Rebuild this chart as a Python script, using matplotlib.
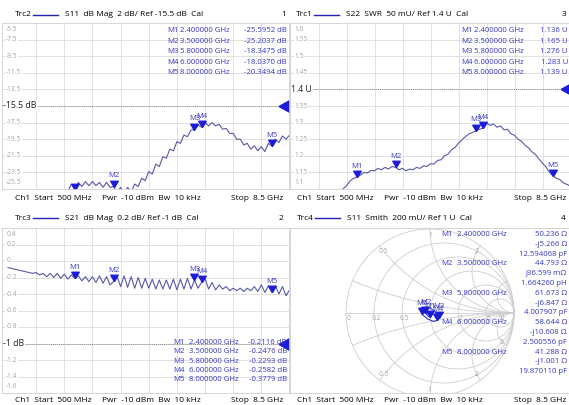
import numpy as np
import matplotlib.pyplot as plt
from matplotlib.lines import Line2D
from matplotlib.patches import Circle

plt.rcParams['font.family'] = ['Open Sans', 'DejaVu Sans']

W, H = 569, 405

# ---- values ----
s11_freq = [0.5, 1.0, 1.5, 1.9, 2.0, 2.1, 2.2, 2.3, 2.4, 2.5, 2.6, 2.7, 2.8, 2.9, 3.0,
            3.1, 3.2, 3.3, 3.4, 3.5, 3.6, 3.7, 3.8, 3.9, 4.0, 4.1, 4.2, 4.3, 4.4, 4.5,
            4.6, 4.7, 4.8, 4.9, 5.0, 5.1, 5.2, 5.3, 5.4, 5.5, 5.6, 5.7, 5.8, 5.9, 6.0,
            6.1, 6.2, 6.3, 6.4, 6.5, 6.6, 6.7, 6.8, 6.9, 7.0, 7.1, 7.2, 7.3, 7.4, 7.5,
            7.6, 7.7, 7.8, 7.9, 8.0, 8.1, 8.2, 8.3, 8.4, 8.5]
s11_db = [-31.0, -30.0, -28.5, -27.0, -26.3, -25.6, -25.8, -24.9, -25.6, -24.7, -25.2, -24.6,
          -25.1, -24.6, -25.1, -24.7, -25.3, -24.7, -25.3, -25.2, -25.9, -25.3, -26.1, -25.3,
          -25.9, -24.9, -25.2, -24.2, -24.5, -23.4, -23.7, -22.5, -22.8, -21.6, -21.8, -20.7,
          -20.9, -19.8, -20.0, -19.0, -19.2, -18.4, -18.35, -17.8, -18.04, -17.5, -17.9, -17.5,
          -17.9, -17.7, -18.3, -18.2, -18.8, -18.8, -19.5, -19.5, -20.2, -20.0, -20.7, -20.3,
          -20.9, -20.4, -21.0, -20.0, -20.35, -19.5, -19.9, -19.1, -19.5, -19.0]

swr_freq = [0.5, 1.0, 1.5, 1.9, 2.1, 2.2, 2.3, 2.4, 2.5, 2.6, 2.7, 2.8, 2.9, 3.0, 3.1,
            3.2, 3.3, 3.4, 3.5, 3.6, 3.7, 3.8, 3.9, 4.0, 4.1, 4.2, 4.3, 4.4, 4.5, 4.6,
            4.7, 4.8, 4.9, 5.0, 5.1, 5.2, 5.3, 5.4, 5.5, 5.6, 5.7, 5.8, 5.9, 6.0, 6.1,
            6.2, 6.3, 6.4, 6.5, 6.6, 6.7, 6.8, 6.9, 7.0, 7.1, 7.2, 7.3, 7.4, 7.5, 7.6,
            7.7, 7.8, 7.9, 8.0, 8.1, 8.2, 8.3, 8.4, 8.5]
swr_val = [1.00, 1.03, 1.06, 1.09, 1.11, 1.124, 1.132, 1.136, 1.142, 1.150, 1.148, 1.156,
           1.155, 1.162, 1.158, 1.165, 1.160, 1.168, 1.165, 1.158, 1.162, 1.155, 1.160, 1.158,
           1.165, 1.162, 1.170, 1.168, 1.176, 1.175, 1.186, 1.188, 1.200, 1.205, 1.218, 1.225,
           1.238, 1.248, 1.258, 1.266, 1.270, 1.276, 1.280, 1.283, 1.298, 1.292, 1.296, 1.286,
           1.290, 1.278, 1.280, 1.266, 1.262, 1.250, 1.244, 1.232, 1.224, 1.212, 1.204, 1.190,
           1.178, 1.166, 1.150, 1.139, 1.132, 1.128, 1.118, 1.114, 1.108]

s21_freq = [0.5, 0.6, 0.7, 0.8, 0.9, 1.0, 1.1, 1.2, 1.3, 1.4, 1.5, 1.6, 1.7, 1.8, 1.9,
            2.0, 2.1, 2.2, 2.3, 2.4, 2.5, 2.6, 2.7, 2.8, 2.9, 3.0, 3.1, 3.2, 3.3, 3.4,
            3.5, 3.6, 3.7, 3.8, 3.9, 4.0, 4.1, 4.2, 4.3, 4.4, 4.5, 4.6, 4.7, 4.8, 4.9,
            5.0, 5.1, 5.2, 5.3, 5.4, 5.5, 5.6, 5.7, 5.8, 5.9, 6.0, 6.1, 6.2, 6.3, 6.4,
            6.5, 6.6, 6.7, 6.8, 6.9, 7.0, 7.1, 7.2, 7.3, 7.4, 7.5, 7.6, 7.7, 7.8, 7.9,
            8.0, 8.1, 8.2, 8.3, 8.4, 8.5]
s21_db = [-0.08, -0.09, -0.10, -0.11, -0.12, -0.13, -0.14, -0.15, -0.14, -0.17, -0.15, -0.19,
          -0.15, -0.20, -0.15, -0.21, -0.16, -0.22, -0.17, -0.21, -0.18, -0.24, -0.19, -0.25,
          -0.19, -0.26, -0.18, -0.27, -0.19, -0.29, -0.25, -0.19, -0.31, -0.18, -0.32, -0.19,
          -0.33, -0.20, -0.33, -0.21, -0.33, -0.22, -0.34, -0.23, -0.34, -0.23, -0.34, -0.22,
          -0.35, -0.22, -0.34, -0.21, -0.34, -0.23, -0.33, -0.26, -0.21, -0.34, -0.26, -0.35,
          -0.29, -0.34, -0.31, -0.36, -0.33, -0.36, -0.33, -0.37, -0.33, -0.36, -0.31, -0.37,
          -0.29, -0.38, -0.30, -0.38, -0.30, -0.40, -0.31, -0.42, -0.35]

smith_re = [-0.03, 0.00, 0.005, -0.02, -0.055, -0.07, -0.05, 0.0, 0.06, 0.108, 0.088,
            0.04, -0.03, -0.08, -0.095, -0.07, -0.04]
smith_im = [0.02, -0.02, -0.052, -0.04, 0.0, 0.04, 0.07, 0.06, 0.02, -0.055, -0.089,
            -0.10, -0.07, -0.03, -0.012, 0.01, 0.0]

mk_names = ['M1', 'M2', 'M3', 'M4', 'M5']
mk_freq = [2.4, 3.5, 5.8, 6.0, 8.0]
mk_freq_txt = ['2.400000 GHz', '3.500000 GHz', '5.800000 GHz', '6.000000 GHz', '8.000000 GHz']
s11_mk = [-25.5952, -25.2037, -18.3475, -18.0370, -20.3494]
swr_mk = [1.136, 1.165, 1.276, 1.283, 1.139]
s21_mk = [-0.2116, -0.2476, -0.2293, -0.2582, -0.3779]
smith_r = [50.236, 44.793, 61.673, 58.644, 41.288]
smith_x = [-5.266, 0.036599, -6.847, -10.608, -1.001]
smith_r_txt = ['50.236 Ω', '44.793 Ω', '61.673 Ω', '58.644 Ω', '41.288 Ω']
smith_x_txt = ['-j5.266 Ω', 'j36.599 mΩ', '-j6.847 Ω', '-j10.608 Ω', '-j1.001 Ω']
smith_lc_txt = ['12.594068 pF', '1.664260 pH', '4.007907 pF', '2.500556 pF', '19.870110 pF']

s11_ticks = ['-5.5', '-7.5', '-9.5', '-11.5', '-13.5', '-15.5', '-17.5', '-19.5', '-21.5', '-23.5', '-25.5']
swr_ticks = ['1.6', '1.55', '1.5', '1.45', '1.4', '1.35', '1.3', '1.25', '1.2', '1.15', '1.1']
s21_ticks = ['0.4', '0.2', '0', '-0.2', '-0.4', '-0.6', '-0.8', '-1', '-1.2', '-1.4', '-1.6']
grid_freq = [0.5, 1.3, 2.1, 2.9, 3.7, 4.5, 5.3, 6.1, 6.9, 7.7, 8.5]

TRACE = '#5858a8'
MK = '#1c1cd8'
MKTXT = '#3838c4'
GRID = '#dcdcdc'
TICK = '#a4a4a4'
RFS = 5.6  # readout font size

fig = plt.figure(figsize=(W / 100, H / 100), dpi=100, facecolor='white')


def fx(x):
    return x / W


def fy(y):
    return 1 - y / H


def panel(x0, x1, y0, y1):
    ax = fig.add_axes([x0 / W, 1 - y1 / H, (x1 - x0) / W, (y1 - y0) / H])
    ax.tick_params(length=0, labelleft=False, labelbottom=False)
    for s in ax.spines.values():
        s.set_color('#d0d0d0')
        s.set_linewidth(0.6)
    return ax


def header(x, y, trc, desc, num, num_x):
    fig.text(fx(x), fy(y), trc, fontsize=6, va='center')
    fig.add_artist(Line2D([fx(x + 18), fx(x + 43)], [fy(y), fy(y)], color='#2424b4', lw=1))
    fig.text(fx(x + 50), fy(y), desc, fontsize=6, va='center')
    fig.text(fx(num_x), fy(y), num, fontsize=6, va='center', ha='right')


def footer(x, y, stop_x):
    fig.text(fx(x), fy(y), 'Ch1  Start  500 MHz', fontsize=6, va='center')
    fig.text(fx(x + 87), fy(y), 'Pwr  -10 dBm  Bw  10 kHz', fontsize=6, va='center')
    fig.text(fx(stop_x), fy(y), 'Stop  8.5 GHz', fontsize=6, va='center', ha='right')


def tri_down():
    return [(0, 0), (-0.6, 1), (0.6, 1), (0, 0)]


def rect_panel(x0, x1, y0, y1, data_x0, data_x1, tick_txt, ref_idx, ref_txt, freq, vals, mk_vals):
    ax = panel(x0, x1, y0, y1)
    px_per_ghz = (data_x1 - data_x0) / 8.0
    ax.set_xlim(0.5 - (data_x0 - x0) / px_per_ghz, 8.5 + (x1 - data_x1) / px_per_ghz)
    yv = [float(t) for t in tick_txt]
    ax.set_ylim(yv[-1], yv[0])
    ax.set_xticks(grid_freq[1:-1])
    ax.set_yticks(yv[1:-1])
    ax.grid(True, color=GRID, lw=0.6)
    ax.axhline(yv[ref_idx], color='#8c8c8c', lw=0.7, ls=(0, (1, 1)))
    for i, t in enumerate(tick_txt):
        if i == ref_idx:
            continue
        dy = -5 if i == 0 else (5 if i == len(tick_txt) - 1 else 0)
        ax.annotate(t, (0, yv[i]), xycoords=('axes fraction', 'data'), xytext=(3, dy),
                    textcoords='offset points', fontsize=4.8, color=TICK, va='center',
                    bbox=dict(boxstyle='square,pad=0.1', fc='white', ec='none'))
    ax.annotate(ref_txt, (0, yv[ref_idx]), xycoords=('axes fraction', 'data'), xytext=(1, 0),
                textcoords='offset points', fontsize=6.3, color='#202020', va='center',
                bbox=dict(boxstyle='square,pad=0.1', fc='white', ec='none'))
    ax.plot(freq, vals, color=TRACE, lw=0.8)
    ax.plot(mk_freq, mk_vals, ls='none', marker=tri_down(), ms=9, color=MK, mec=MK)
    for n, f, v in zip(mk_names, mk_freq, mk_vals):
        ax.annotate(n, (f, v), xytext=(0, 5.2), textcoords='offset points', ha='center',
                    va='bottom', fontsize=5.5, color=MKTXT)
    ax.plot([1.0], [yv[ref_idx]], transform=ax.get_yaxis_transform(), ls='none',
            marker=[(-1, 0), (0, 0.55), (0, -0.55), (-1, 0)], ms=15, color=MK, clip_on=False)
    return ax


def readout(xn, xf, xv, y0, step, values):
    for i in range(5):
        y = y0 + i * step
        fig.text(fx(xn), fy(y), mk_names[i], fontsize=RFS, color=MKTXT, va='center')
        fig.text(fx(xf), fy(y), mk_freq_txt[i], fontsize=RFS, color=MKTXT, va='center')
        fig.text(fx(xv), fy(y), values[i], fontsize=RFS, color=MKTXT, va='center', ha='right')


# ---- top left: S11 dB ----
header(15, 15, 'Trc2', 'S11  dB Mag  2 dB/ Ref -15.5 dB  Cal', '1', 286)
rect_panel(2, 289, 23, 189, 8, 289.5, s11_ticks, 5, '-15.5 dB', s11_freq, s11_db, s11_mk)
readout(167, 180, 287, 30.5, 10.6, ['%.4f dB' % v for v in s11_mk])
footer(15, 198, 283)

# ---- top right: S22 SWR ----
header(296, 15, 'Trc1', 'S22  SWR  50 mU/ Ref 1.4 U  Cal', '3', 566)
rect_panel(290, 571, 23, 189, 290.5, 570.5, swr_ticks, 4, '1.4 U', swr_freq, swr_val, swr_mk)
readout(461, 474, 568, 30.5, 10.6, ['%.3f U' % v for v in swr_mk])
footer(297, 198, 566)

# ---- bottom left: S21 dB ----
header(15, 218, 'Trc3', 'S21  dB Mag  0.2 dB/ Ref -1 dB  Cal', '2', 283)
rect_panel(2, 289, 228, 393, 8, 289.5, s21_ticks, 7, '-1 dB', s21_freq, s21_db, s21_mk)
readout(173, 189, 287, 342.5, 9.3, ['%.4f dB' % v for v in s21_mk])
footer(15, 401, 283)

# ---- bottom right: S11 Smith ----
header(297, 218, 'Trc4', 'S11  Smith  200 mU/ Ref 1 U  Cal', '4', 566)
cx, cy, R = 430, 313, 84
ax = panel(290, 569, 228, 393)
ax.set_xlim((290 - cx) / R, (569 - cx) / R)
ax.set_ylim((cy - 393) / R, (cy - 228) / R)
sg = dict(fill=False, ec='#cdcdcd', lw=0.6)
unit = Circle((0, 0), 1, **sg)
ax.add_patch(unit)
for r in [0.2, 0.5, 1, 2, 5]:
    ax.add_patch(Circle((r / (1 + r), 0), 1 / (1 + r), **sg))
for xr in [0.2, 0.5, 1, 2, 5, -0.2, -0.5, -1, -2, -5]:
    c = Circle((1, 1 / xr), 1 / abs(xr), **sg)
    ax.add_patch(c)
    c.set_clip_path(unit)
ax.plot([-1, 1], [0, 0], color='#cdcdcd', lw=0.6)
for r, t in zip([0, 0.2, 0.5, 2, 5, 10], ['0', '0.2', '0.5', '2', '5', '10']):
    g = (r - 1) / (r + 1)
    ax.annotate(t, (g, 0), xytext=(2, -1.5), textcoords='offset points', fontsize=4.8,
                color=TICK, ha='center', va='top')
for xr, t in zip([0.5, 1, 2, -0.5, -1, -2, -5], ['0.5', '1', '2', '-0.5', '-1', '-2', '-5']):
    g = (1j * xr - 1) / (1j * xr + 1)
    ax.text(g.real * 0.92, g.imag * 0.92, t, fontsize=4.8, color=TICK, ha='center', va='center')
ax.plot(smith_re, smith_im, color='#3434c0', lw=0.8)
zm = (np.array(smith_r) + 1j * np.array(smith_x)) / 50.0
gm = (zm - 1) / (zm + 1)
ax.plot(gm.real, gm.imag, ls='none', marker=tri_down(), ms=9, color=MK)
for n, g in zip(mk_names, gm):
    ax.annotate(n, (g.real, g.imag), xytext=(0, 5.2), textcoords='offset points', ha='center',
                va='bottom', fontsize=5.5, color=MKTXT)
for i in range(5):
    y = 234.5 + 3 * i * 9.8
    fig.text(fx(441), fy(y), mk_names[i], fontsize=RFS, color=MKTXT, va='center')
    fig.text(fx(457), fy(y), mk_freq_txt[i], fontsize=RFS, color=MKTXT, va='center')
    for k, t in enumerate([smith_r_txt[i], smith_x_txt[i], smith_lc_txt[i]]):
        fig.text(fx(567), fy(y + k * 9.8), t, fontsize=RFS, color=MKTXT, va='center', ha='right')
footer(297, 401, 566)

fig.savefig('out.png', dpi=100, facecolor='white')
